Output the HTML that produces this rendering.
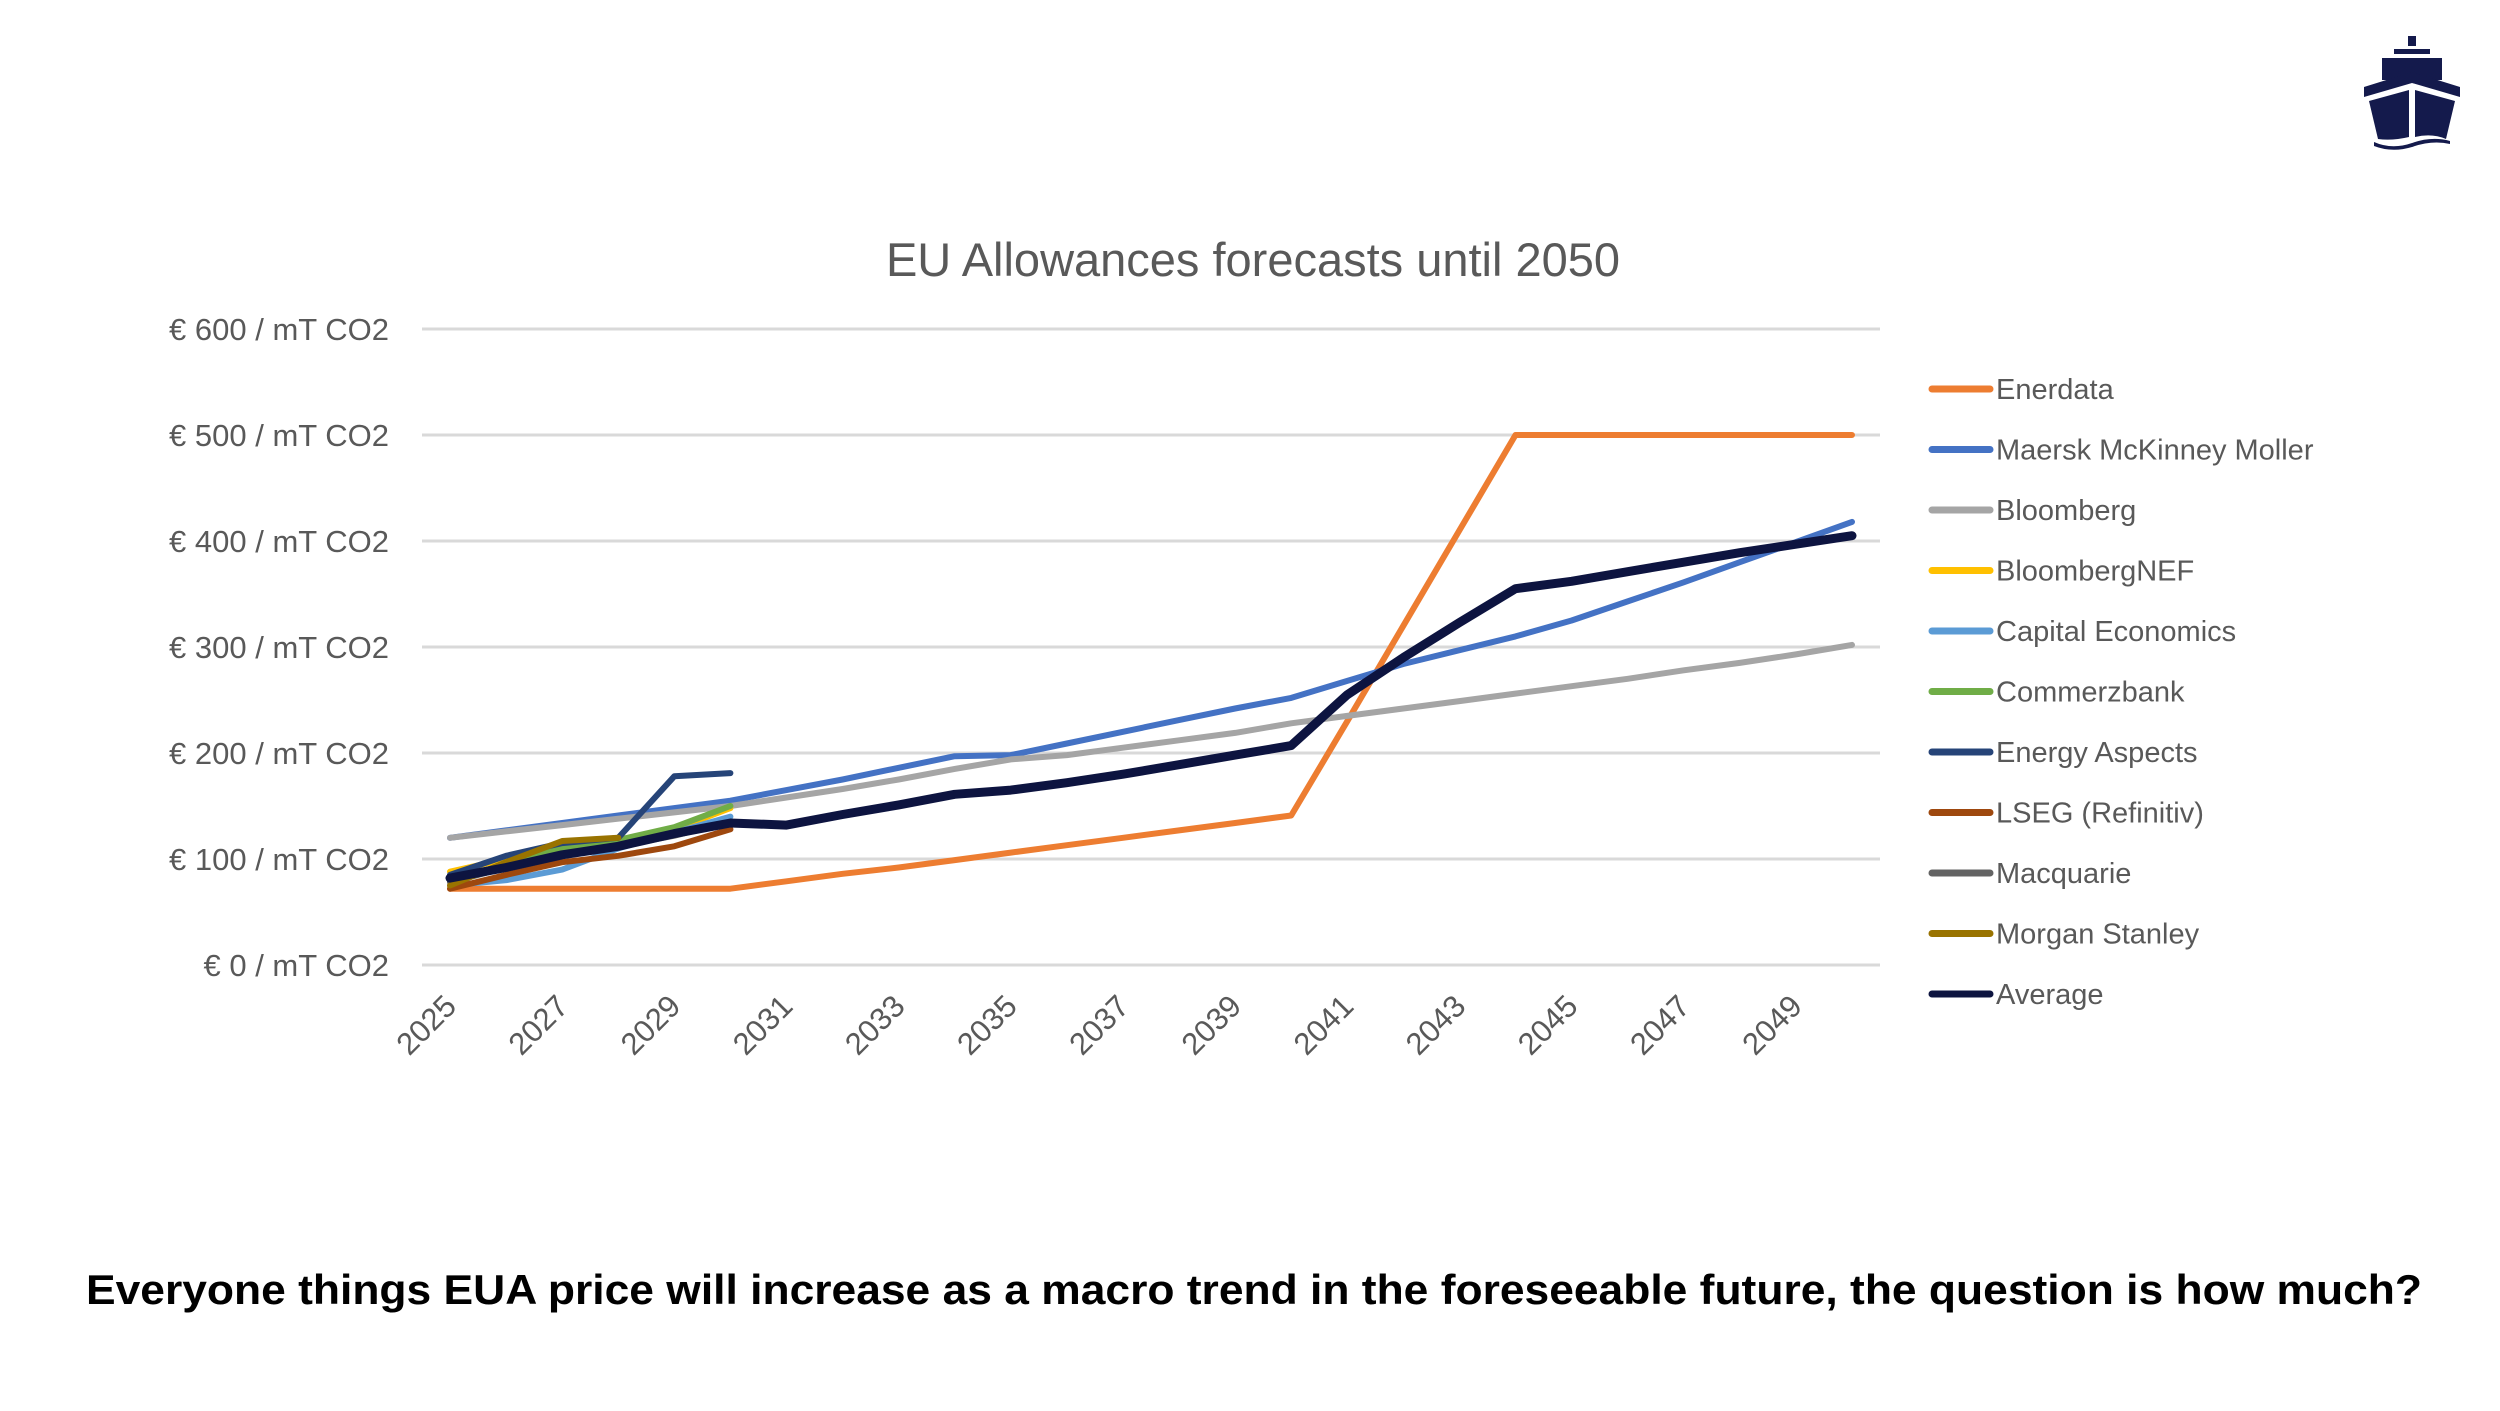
<!DOCTYPE html>
<html><head><meta charset="utf-8"><style>
html,body{margin:0;padding:0;background:#fff;}
body{width:2500px;height:1406px;overflow:hidden;font-family:"Liberation Sans",sans-serif;}
</style></head><body>
<svg id="chart" width="2500" height="1406" viewBox="0 0 2500 1406" xmlns="http://www.w3.org/2000/svg">
<g fill="#141a4c" transform="translate(-8 0)">
  <rect x="2416" y="36" width="8" height="10"/>
  <rect x="2402" y="49" width="36" height="5"/>
  <rect x="2390" y="58" width="60" height="22"/>
  <path d="M2372 87 L2420 72 L2468 87 L2468 97 L2420 83 L2372 97 Z"/>
  <path d="M2377 101 L2417 90 L2417 137 Q2400 141 2386 139 Z"/>
  <path d="M2423 90 L2463 101 L2454 139 Q2440 133 2423 137 Z"/>
  <path d="M2382 142 Q2400 150 2420 143 Q2440 136 2458 141 L2458 144 Q2440 140 2420 147 Q2400 153 2382 146 Z"/>
</g>
<text x="1253" y="276" text-anchor="middle" font-size="47" fill="#595959">EU Allowances forecasts until 2050</text>
<g id="grid"></g><g id="yt"></g><g id="xt"></g><g id="series"></g><g id="legend"></g>
<text x="86" y="1304" font-size="42" font-weight="bold" fill="#000" textLength="2336" lengthAdjust="spacingAndGlyphs">Everyone things EUA price will increase as a macro trend in the foreseeable future, the question is how much?</text>
</svg>
<script>
const years = [2025,2026,2027,2028,2029,2030,2031,2032,2033,2034,2035,2036,2037,2038,2039,2040,2041,2042,2043,2044,2045,2046,2047,2048,2049,2050];
const yTicks = [0,100,200,300,400,500,600];
const seriesNames = ["Enerdata","Maersk McKinney Moller","Bloomberg","BloombergNEF","Capital Economics","Commerzbank","Energy Aspects","LSEG (Refinitiv)","Macquarie","Morgan Stanley","Average"];
const enerdata = [72,72,72,72,72,72,79,86,92,99,106,113,120,127,134,141,230,320,410,500,500,500,500,500,500,500];
const maersk = [120,127,134,141,148,155,165,175,186,197,198,209,220,231,242,252,268,284,297,310,325,343,361,380,399,418];
const bloomberg = [120,126,132,138,144,150,158,166,175,185,194,198,205,212,219,228,235,242,249,256,263,270,278,285,293,302];
const bnef = [88,100,110,117,128,148];
const capEcon = [75,80,90,110,125,140];
const commerz = [80,95,110,118,130,150];
const energyAspects = [85,103,115,120,178,181];
const lseg = [72,85,97,103,112,128];
const macquarie = [78,92,105,112,122,135];
const morganStanley = [75,97,117,120];
const average = [82,92,104,112,124,134,132,142,151,161,165,172,180,189,198,207,255,290,323,355,362,371,380,389,397,405];

const allData = [enerdata,maersk,bloomberg,bnef,capEcon,commerz,energyAspects,lseg,macquarie,morganStanley,average];
const colors = ["#ED7D31","#4472C4","#A5A5A5","#FFC000","#5B9BD5","#70AD47","#264478","#9E480E","#636363","#997300","#0d1440"];
const NS="http://www.w3.org/2000/svg";
const X0=422, X1=1880, Y0=965, YPER=1.06;
const xs = i => X0 + (i+0.5)*(X1-X0)/years.length;
const ys = v => Y0 - v*YPER;
function mk(tag, attrs, parent){const e=document.createElementNS(NS,tag);for(const k in attrs)e.setAttribute(k,attrs[k]);parent.appendChild(e);return e;}
const grid=document.getElementById('grid'), yt=document.getElementById('yt'), xt=document.getElementById('xt'), ser=document.getElementById('series'), leg=document.getElementById('legend');
yTicks.forEach(t=>{
  const l=mk('line',{x1:X0,x2:X1,y1:ys(t),y2:ys(t),stroke:'#d9d9d9','stroke-width':3},grid);
  
  
  const tx=mk('text',{x:389,y:ys(t)+11,'text-anchor':'end','font-size':31,fill:'#595959'},yt);
  tx.textContent='€ '+t+' / mT CO2';
  
  
});
years.forEach((yr,i)=>{
  if(i%2) return;
  const x=xs(i)+8, y=1008;
  const tx=mk('text',{x:x,y:y,'text-anchor':'end','font-size':31,fill:'#595959',transform:`rotate(-45 ${x} ${y})`},xt);
  tx.textContent=yr;
  
  
});
allData.forEach((d,s)=>{
  const pts=d.map((v,i)=>xs(i).toFixed(1)+','+ys(v).toFixed(1)).join(' ');
  const p=mk('polyline',{points:pts,fill:'none',stroke:colors[s],'stroke-width':s===10?9:6,'stroke-linejoin':'round','stroke-linecap':'round'},ser);
  
  
  const y=389+s*60.5;
  const g=mk('g',{},leg);
  
  
  mk('line',{x1:1932,x2:1990,y1:y,y2:y,stroke:colors[s],'stroke-width':7,'stroke-linecap':'round'},g);
  const t=mk('text',{x:1996,y:y+10,'font-size':29,fill:'#595959'},g);
  t.textContent=seriesNames[s];
});
</script>
</body></html>
